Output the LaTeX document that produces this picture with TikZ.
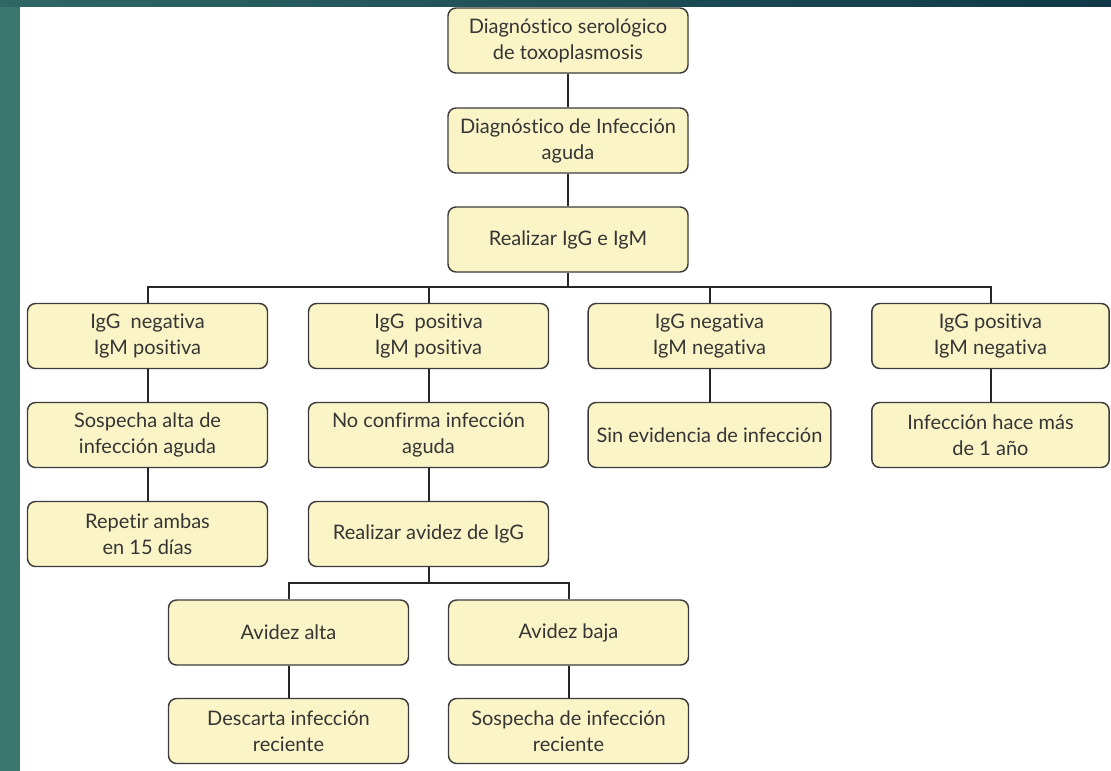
\documentclass[tikz,border=0pt]{standalone}
\usepackage{fontspec}
\setmainfont{Lato}[Ligatures={NoCommon}]
\definecolor{boxfill}{HTML}{FAF4C6}
\definecolor{boxline}{HTML}{3C3C3C}
\definecolor{txt}{HTML}{353535}
\definecolor{tealL}{HTML}{3A776F}
\definecolor{tealT}{HTML}{2E6766}
\definecolor{navyT}{HTML}{103848}
\tikzset{
  box/.style={draw=boxline, line width=1.1pt, fill=boxfill, rounded corners=6pt,
    minimum width=180pt, minimum height=48.75pt, inner sep=0pt, align=center,
    text=txt, font=\fontsize{15}{19.5}\selectfont},
  conn/.style={draw=black!85, line width=1.5pt}
}
\begin{document}
\begin{tikzpicture}[x=0.75pt, y=-0.75pt]
\useasboundingbox (0,0) rectangle (1111,771);
\fill[white] (0,0) rectangle (1111,771);
\fill[tealL] (0,0) rectangle (20,771);
\shade[left color=tealT, right color=navyT] (0,0) rectangle (1111,6);
% top chain
\node[box] (A) at (568,40.5) {Diagnóstico serológico\\de toxoplasmosis};
\node[box] (B) at (568,140.5) {Diagnóstico de Infección\\aguda};
\node[box] (C) at (568,239.5) {Realizar IgG e IgM};
% row 1
\node[box] (r1a) at (147.5,336) {IgG~~negativa\\IgM positiva};
\node[box] (r1b) at (428.5,336) {IgG~~positiva\\IgM positiva};
\node[box, minimum width=182pt] (r1c) at (709.5,336) {IgG negativa\\IgM negativa};
\node[box, minimum width=178pt] (r1d) at (990.5,336) {IgG positiva\\IgM negativa};
% row 2
\node[box] (r2a) at (147.5,435) {Sospecha alta de\\infección aguda};
\node[box] (r2b) at (428.5,435) {No confirma infección\\aguda};
\node[box, minimum width=182pt] (r2c) at (709.5,435) {Sin evidencia de infección};
\node[box, minimum width=178pt] (r2d) at (990.5,435) {Infección hace más\\de 1 año};
% row 3
\node[box] (r3a) at (147.5,534) {Repetir ambas\\en 15 días};
\node[box] (r3b) at (428.5,534) {Realizar avidez de IgG};
% row 4
\node[box] (r4a) at (288.5,632.5) {Avidez alta};
\node[box] (r4b) at (568.5,632.5) {Avidez baja};
% row 5
\node[box] (r5a) at (288.5,731) {Descarta infección\\reciente};
\node[box] (r5b) at (568.5,731) {Sospecha de infección\\reciente};
% bus coordinates
\coordinate (bus1) at (0,287);
\coordinate (bus2) at (0,583);
% connectors
\draw[conn] (A) -- (B);
\draw[conn] (B) -- (C);
\draw[conn] (C.south) -- (C.south |- bus1) -| (r1a.north);
\draw[conn] (C.south |- bus1) -| (r1b.north);
\draw[conn] (C.south |- bus1) -| (r1c.north);
\draw[conn] (C.south |- bus1) -| (r1d.north);
\draw[conn] (r1a) -- (r2a);
\draw[conn] (r2a) -- (r3a);
\draw[conn] (r1b) -- (r2b);
\draw[conn] (r2b) -- (r3b);
\draw[conn] (r1c.south) -- (r2c.north -| r1c.south);
\draw[conn] (r1d) -- (r2d);
\draw[conn] (r3b.south) -- (r3b.south |- bus2) -| (r4a.north);
\draw[conn] (r3b.south |- bus2) -| (r4b.north);
\draw[conn] (r4a) -- (r5a);
\draw[conn] (r4b) -- (r5b);
\end{tikzpicture}
\end{document}
